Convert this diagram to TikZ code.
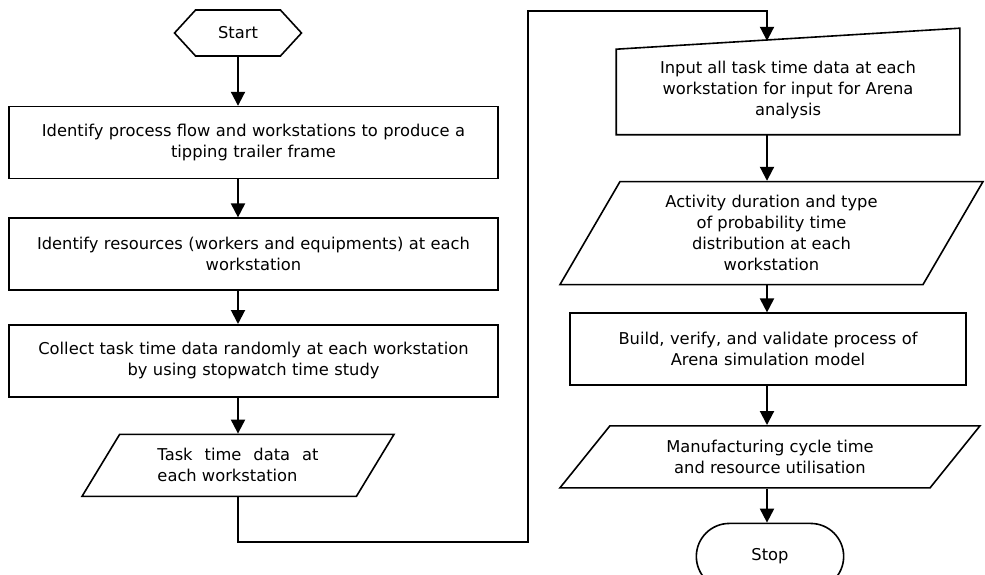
\documentclass[tikz,border=0pt]{standalone}
\usepackage{fontspec}
\setmainfont{DejaVu Sans}
\usetikzlibrary{shapes.geometric,shapes.misc,shapes.symbols,positioning,arrows.meta}

\begin{document}
\begin{tikzpicture}[
    x=1pt, y=-1pt,
    font=\fontsize{16.3}{21}\selectfont,
    line width=1.6pt,
    process/.style={rectangle, draw, minimum width=489pt, minimum height=72pt, text width=480pt, align=center, inner sep=2pt},
    io/.style={trapezium, draw, trapezium stretches body, align=center, inner sep=2pt},
    terminal/.style={rounded rectangle, draw, minimum width=154pt, minimum height=66pt},
    arrow/.style={-{Triangle[length=14pt,width=14pt]}, line width=2pt}
]
\useasboundingbox (0,0) rectangle (985,575);

% Left column
\node[signal, signal to=west and east, signal pointer angle=95, draw, minimum width=127pt, minimum height=46pt] (start) at (238,33) {Start};
\node[process, below=49pt of start, xshift=15.5pt] (identify) {Identify process flow and workstations to produce a\\ tipping trailer frame};
\node[process, below=38pt of identify] (resources) {Identify resources (workers and equipments) at each\\ workstation};
\node[process, below=33pt of resources] (collect) {Collect task time data randomly at each workstation\\ by using stopwatch time study};
\node[io, trapezium left angle=45, trapezium right angle=135, minimum width=312pt, minimum height=62pt, text width=161pt, align=justify, below=36pt of collect, xshift=-15.5pt] (taskdata) {Task time data at\linebreak each workstation};

% Right column
\node[minimum width=342pt, minimum height=88pt, align=center, inner sep=2pt] (inputall) at (788,90) {Input all task time data at each\\ workstation for input for Arena\\ analysis};
\draw (inputall.south west) -- ([yshift=-4pt]inputall.north west) -- ([yshift=17pt]inputall.north east) -- (inputall.south east) -- cycle;
\node[io, trapezium left angle=53, trapezium right angle=127, minimum width=423pt, minimum height=103pt, below=46pt of inputall, xshift=-16.5pt] (duration) {Activity duration and type\\ of probability time\\ distribution at each\\ workstation};
\node[process, minimum width=396pt, text width=390pt, below=27pt of duration, xshift=-3.5pt] (build) {Build, verify, and validate process of\\ Arena simulation model};
\node[io, trapezium left angle=37, trapezium right angle=143, minimum width=420pt, minimum height=62pt, below=39pt of build, xshift=2pt] (cycle) {Manufacturing cycle time\\ and resource utilisation};
\node[terminal, below=34pt of cycle] (stop) {Stop};

% Loop points
\coordinate (intop) at (767,40.8);
\coordinate (loopdown) at (528,542);
\coordinate (loopup) at (528,11);

% Edges
\draw[arrow] (start.south) -- (start |- identify.north);
\draw[arrow] (identify.south -| start) -- (resources.north -| start);
\draw[arrow] (resources.south -| start) -- (collect.north -| start);
\draw[arrow] (collect.south -| start) -- (taskdata.north -| start);
\draw[arrow] (taskdata.south -| start) |- (loopdown) -- (loopup) -| (intop);
\draw[arrow] (inputall.south -| intop) -- (duration.north -| intop);
\draw[arrow] (duration.south -| intop) -- (build.north -| intop);
\draw[arrow] (build.south -| intop) -- (cycle.north -| intop);
\draw[arrow] (cycle.south -| intop) -- (stop.north -| intop);

\end{tikzpicture}
\end{document}
